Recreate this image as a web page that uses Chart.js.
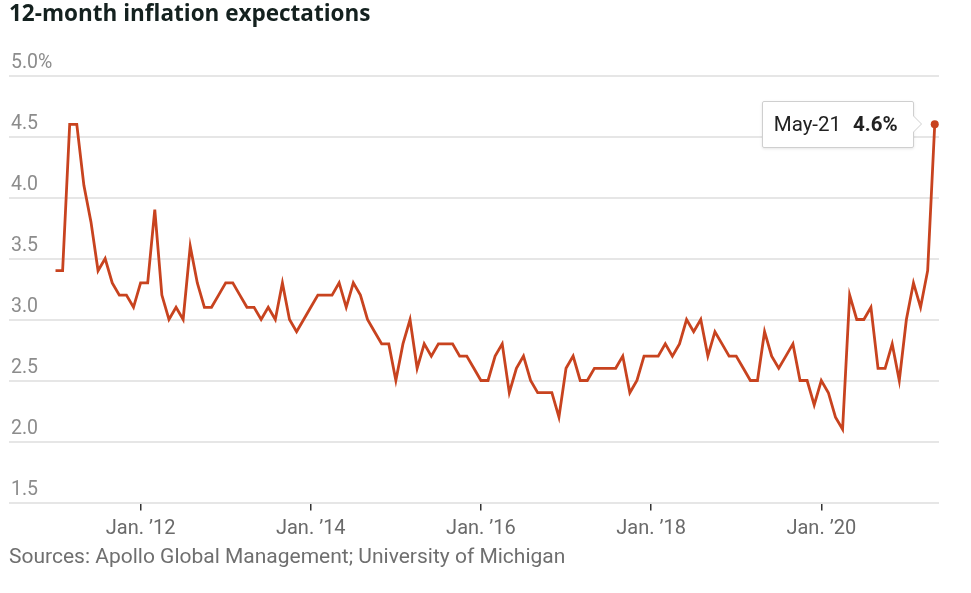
<!DOCTYPE html>
<html>
<head>
<meta charset="utf-8">
<script src="https://cdn.jsdelivr.net/npm/chart.js@4.4.0/dist/chart.umd.min.js"></script>
<style>
  html, body { margin: 0; padding: 0; background: #ffffff; }
  #wrap { position: relative; width: 971px; height: 593px; overflow: hidden; }
  #tip {
    position: absolute; display: none; box-sizing: border-box;
    width: 152px; height: 47px; background: #fff;
    border: 1px solid #cfcfcf; border-radius: 2px;
    box-shadow: 0 1px 3px rgba(0,0,0,0.10);
    font-family: Roboto, "Liberation Sans", sans-serif; font-size: 20.5px; color: #222;
    line-height: 45px; padding-left: 11px; white-space: nowrap;
  }
  #tip b { font-weight: 700; margin-left: 12px; }
  #tip:before, #tip:after {
    content: ""; position: absolute; left: 100%; top: 50%;
    border-style: solid; border-color: transparent;
  }
  #tip:before { margin-top: -9px; border-width: 9px 0 9px 9px; border-left-color: #cfcfcf; }
  #tip:after  { margin-top: -8px; border-width: 8px 0 8px 8px; border-left-color: #ffffff; }
</style>
</head>
<body>
<div id="wrap">
  <canvas id="c" width="971" height="593"></canvas>
  <div id="tip"></div>
</div>
<script>
// University of Michigan 12-month inflation expectations, monthly, Jan 2011 - May 2021
const y2011 = [3.4, 3.4, 4.6, 4.6, 4.1, 3.8, 3.4, 3.5, 3.3, 3.2, 3.2, 3.1];
const y2012 = [3.3, 3.3, 3.9, 3.2, 3.0, 3.1, 3.0, 3.6, 3.3, 3.1, 3.1, 3.2];
const y2013 = [3.3, 3.3, 3.2, 3.1, 3.1, 3.0, 3.1, 3.0, 3.3, 3.0, 2.9, 3.0];
const y2014 = [3.1, 3.2, 3.2, 3.2, 3.3, 3.1, 3.3, 3.2, 3.0, 2.9, 2.8, 2.8];
const y2015 = [2.5, 2.8, 3.0, 2.6, 2.8, 2.7, 2.8, 2.8, 2.8, 2.7, 2.7, 2.6];
const y2016 = [2.5, 2.5, 2.7, 2.8, 2.4, 2.6, 2.7, 2.5, 2.4, 2.4, 2.4, 2.2];
const y2017 = [2.6, 2.7, 2.5, 2.5, 2.6, 2.6, 2.6, 2.6, 2.7, 2.4, 2.5, 2.7];
const y2018 = [2.7, 2.7, 2.8, 2.7, 2.8, 3.0, 2.9, 3.0, 2.7, 2.9, 2.8, 2.7];
const y2019 = [2.7, 2.6, 2.5, 2.5, 2.9, 2.7, 2.6, 2.7, 2.8, 2.5, 2.5, 2.3];
const y2020 = [2.5, 2.4, 2.2, 2.1, 3.2, 3.0, 3.0, 3.1, 2.6, 2.6, 2.8, 2.5];
const y2021 = [3.0, 3.3, 3.1, 3.4, 4.6];

const monthNames = ["Jan","Feb","Mar","Apr","May","Jun","Jul","Aug","Sep","Oct","Nov","Dec"];
const startYear = 2011;

const xTickMonths = [12, 36, 60, 84, 108];
const xTickLabels = ["Jan. \u201912", "Jan. \u201914", "Jan. \u201916", "Jan. \u201918", "Jan. \u201920"];
const yTickValues = [1.5, 2.0, 2.5, 3.0, 3.5, 4.0, 4.5, 5.0];
const yTickLabels = ["1.5", "2.0", "2.5", "3.0", "3.5", "4.0", "4.5", "5.0%"];

const titleText = "12-month inflation expectations";
const sourceText = "Sources: Apollo Global Management; University of Michigan";

const values = [].concat(y2011, y2012, y2013, y2014, y2015, y2016, y2017, y2018, y2019, y2020, y2021);
const dateLabels = values.map((v, i) =>
  monthNames[i % 12] + "-" + String((startYear + Math.floor(i / 12)) % 100).padStart(2, "0"));
const points = values.map((v, i) => ({ x: i, y: v }));
const lastIndex = values.length - 1;

const lineColor = "#c8431f";
const grayFont = "Roboto, 'Liberation Sans', sans-serif";

const tipEl = document.getElementById("tip");
function externalTip(context) {
  const t = context.tooltip;
  if (!t || t.opacity === 0 || !t.dataPoints || !t.dataPoints.length) { tipEl.style.display = "none"; return; }
  const dp = t.dataPoints[0];
  tipEl.innerHTML = dateLabels[dp.dataIndex] + "<b>" + dp.parsed.y.toFixed(1) + "%</b>";
  tipEl.style.display = "block";
  const w = tipEl.offsetWidth, h = tipEl.offsetHeight;
  tipEl.style.left = (t.caretX - 21 - w) + "px";
  tipEl.style.top = (t.caretY - h / 2) + "px";
}

const chart = new Chart(document.getElementById("c"), {
  type: "line",
  data: {
    datasets: [{
      data: points,
      borderColor: lineColor,
      borderWidth: 2.8,
      backgroundColor: lineColor,
      pointRadius: ctx => (ctx.dataIndex === lastIndex ? 4 : 0),
      pointHoverRadius: ctx => (ctx.dataIndex === lastIndex ? 4 : 0),
      pointBackgroundColor: lineColor,
      pointBorderWidth: 0,
      tension: 0,
      fill: false,
      clip: false
    }]
  },
  options: {
    responsive: false,
    animation: false,
    events: [],
    layout: { padding: { left: 9, right: 32, top: 0, bottom: 0 } },
    scales: {
      x: {
        type: "linear",
        min: -6.56,
        max: 124.6,
        afterBuildTicks: s => { s.ticks = xTickMonths.map(v => ({ value: v })); },
        afterFit: s => { s.height = 40; },
        ticks: {
          autoSkip: false, maxRotation: 0, padding: 6,
          color: "#6a6a6a",
          font: { family: grayFont, size: 20 },
          callback: (v, i) => xTickLabels[i]
        },
        grid: { drawOnChartArea: false, drawTicks: true, tickLength: 8, color: "#333333", lineWidth: 1.5 },
        border: { display: false }
      },
      y: {
        type: "linear",
        min: 1.5,
        max: 5.0,
        afterBuildTicks: s => { s.ticks = yTickValues.map(v => ({ value: v })); },
        afterFit: s => { s.width = 0; },
        ticks: {
          mirror: true, padding: 2, labelOffset: -12,
          color: "#8c8c8c",
          font: { family: grayFont, size: 19.5 },
          callback: (v, i) => yTickLabels[i]
        },
        grid: { color: "#e6e6e6", lineWidth: 2, drawTicks: false },
        border: { display: false }
      }
    },
    plugins: {
      legend: { display: false },
      title: {
        display: true, text: titleText, align: "start",
        color: "#14211f",
        font: { family: "'Open Sans', Inter, sans-serif", size: 22.5, weight: "bold" },
        padding: { top: 1, bottom: 47.5 }
      },
      subtitle: {
        display: true, text: sourceText, align: "start", position: "bottom",
        color: "#6f6f6f",
        font: { family: grayFont, size: 21 },
        padding: { top: 3, bottom: 22.3 }
      },
      tooltip: {
        enabled: false,
        animation: false,
        external: externalTip
      }
    }
  }
});

const lastEl = chart.getDatasetMeta(0).data[lastIndex];
chart.tooltip.setActiveElements([{ datasetIndex: 0, index: lastIndex }], { x: lastEl.x, y: lastEl.y });
</script>
</body>
</html>
